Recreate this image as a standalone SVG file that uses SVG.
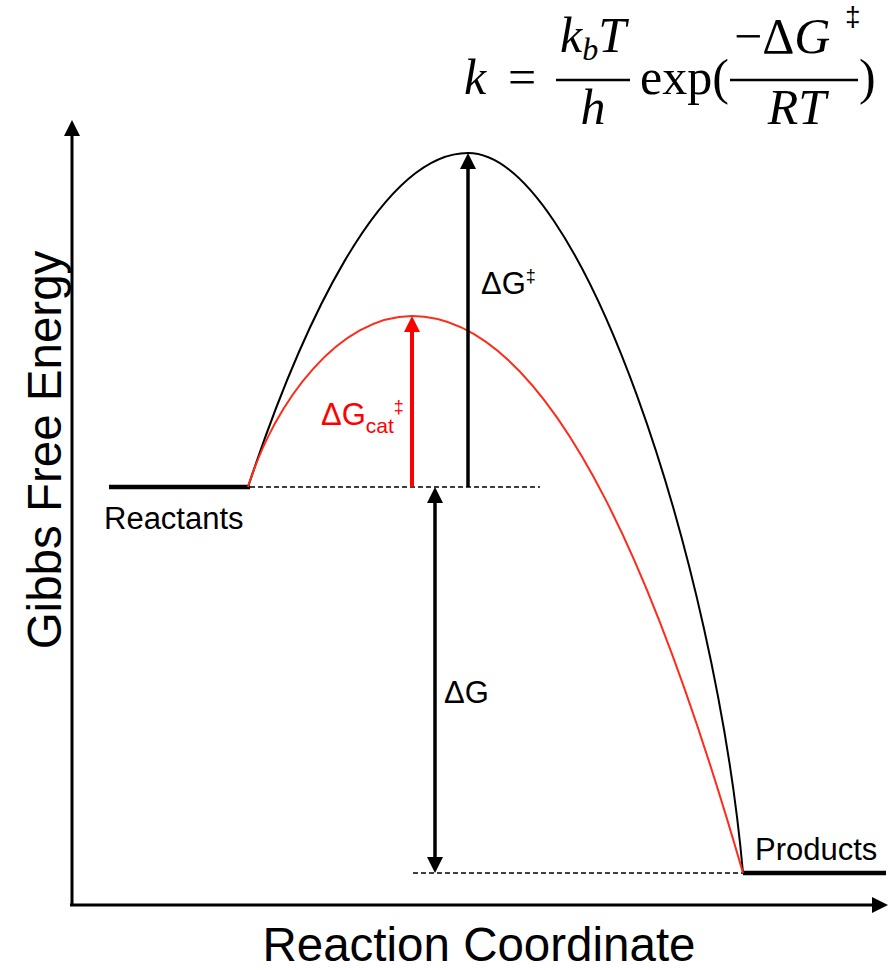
<svg xmlns="http://www.w3.org/2000/svg" width="889" height="970" viewBox="0 0 889 970">
<style>
.lbl{font-family:"Liberation Sans",Arial,sans-serif;font-size:31px;fill:#000}
.ttl{font-family:"Liberation Sans",Arial,sans-serif;font-size:47.5px;fill:#000}
.m{font-family:"Liberation Serif","Times New Roman",serif;font-size:50px;fill:#000}
.mi{font-style:italic}
.ax{stroke:#000;stroke-width:3;fill:none}
.lvl{stroke:#000;stroke-width:4.5;fill:none}
.dash{stroke:#000;stroke-width:1.5;stroke-dasharray:5 3;fill:none}
</style>
<defs>
<marker id="ah" viewBox="0 0 16 16" refX="6" refY="8" markerWidth="16" markerHeight="16" orient="auto-start-reverse" markerUnits="userSpaceOnUse"><path d="M0,0 L16,8 L0,16 z" fill="#000"/></marker>
<marker id="ahr" viewBox="0 0 16 16" refX="6" refY="8" markerWidth="16" markerHeight="16" orient="auto" markerUnits="userSpaceOnUse"><path d="M0,0 L16,8 L0,16 z" fill="#ff0000"/></marker>
</defs>
<rect width="889" height="970" fill="#fff"/>
<g id="axes">
<line class="ax" x1="72" y1="906" x2="72" y2="130" marker-end="url(#ah)"/>
<line class="ax" x1="70" y1="905" x2="878" y2="905" marker-end="url(#ah)"/>
<text class="ttl" transform="translate(61,450) rotate(-90)" text-anchor="middle">Gibbs Free Energy</text>
<text class="ttl" x="479" y="961" text-anchor="middle">Reaction Coordinate</text>
</g>
<g id="formula">
<text class="m mi" x="464" y="94">k</text>
<text class="m" x="508" y="94">=</text>
<text class="m" x="593" y="52" text-anchor="middle"><tspan class="mi">k</tspan><tspan class="mi" font-size="32" dy="8">b</tspan><tspan class="mi" dy="-8">T</tspan></text>
<line x1="556" y1="80" x2="630" y2="80" stroke="#000" stroke-width="2.5"/>
<text class="m mi" x="593" y="124" text-anchor="middle">h</text>
<text class="m" x="640" y="94">exp(</text>
<text class="m" x="734" y="53">−Δ<tspan class="mi">G</tspan></text>
<text x="845" y="26" font-family="Liberation Sans, Arial, sans-serif" font-size="28">‡</text>
<line x1="730" y1="80" x2="858" y2="80" stroke="#000" stroke-width="2.5"/>
<text class="m mi" x="797" y="124" text-anchor="middle">RT</text>
<text class="m" x="859" y="94">)</text>
</g>
<g id="reactants">
<line class="lvl" x1="109" y1="487" x2="250" y2="487"/>
<text class="lbl" x="104" y="529">Reactants</text>
</g>
<g id="products">
<line class="lvl" x1="743" y1="873" x2="886" y2="873"/>
<text class="lbl" x="755" y="860">Products</text>
</g>
<g id="connectors">
<line class="dash" x1="250" y1="487" x2="540" y2="487"/>
<line class="dash" x1="413" y1="873" x2="743" y2="873"/>
<path d="M248,487 C300,330 380,153 468,153 C580,153 715,560 743,873" fill="none" stroke="#000" stroke-width="2"/>
<path d="M248,487 C275,400 340,316 412,316 C560,316 670,620 743,873" fill="none" stroke="#ff2a1a" stroke-width="2"/>
<line x1="468" y1="487" x2="468" y2="163" stroke="#000" stroke-width="3.5" marker-end="url(#ah)"/>
<line x1="412" y1="487" x2="412" y2="326" stroke="#ff0000" stroke-width="4" marker-end="url(#ahr)"/>
<line x1="435" y1="497" x2="435" y2="863" stroke="#000" stroke-width="3.5" marker-start="url(#ah)" marker-end="url(#ah)"/>
</g>
<g id="label-dg-ts">
<text class="lbl" x="481" y="294">ΔG<tspan font-size="18" dy="-12">‡</tspan></text>
</g>
<g id="label-dg-cat">
<text class="lbl" x="321" y="425" style="fill:#ff0000">ΔG<tspan font-size="21" dy="8">cat</tspan><tspan font-size="18" dy="-20">‡</tspan></text>
</g>
<g id="label-dg">
<text class="lbl" x="444" y="703">ΔG</text>
</g>
</svg>
